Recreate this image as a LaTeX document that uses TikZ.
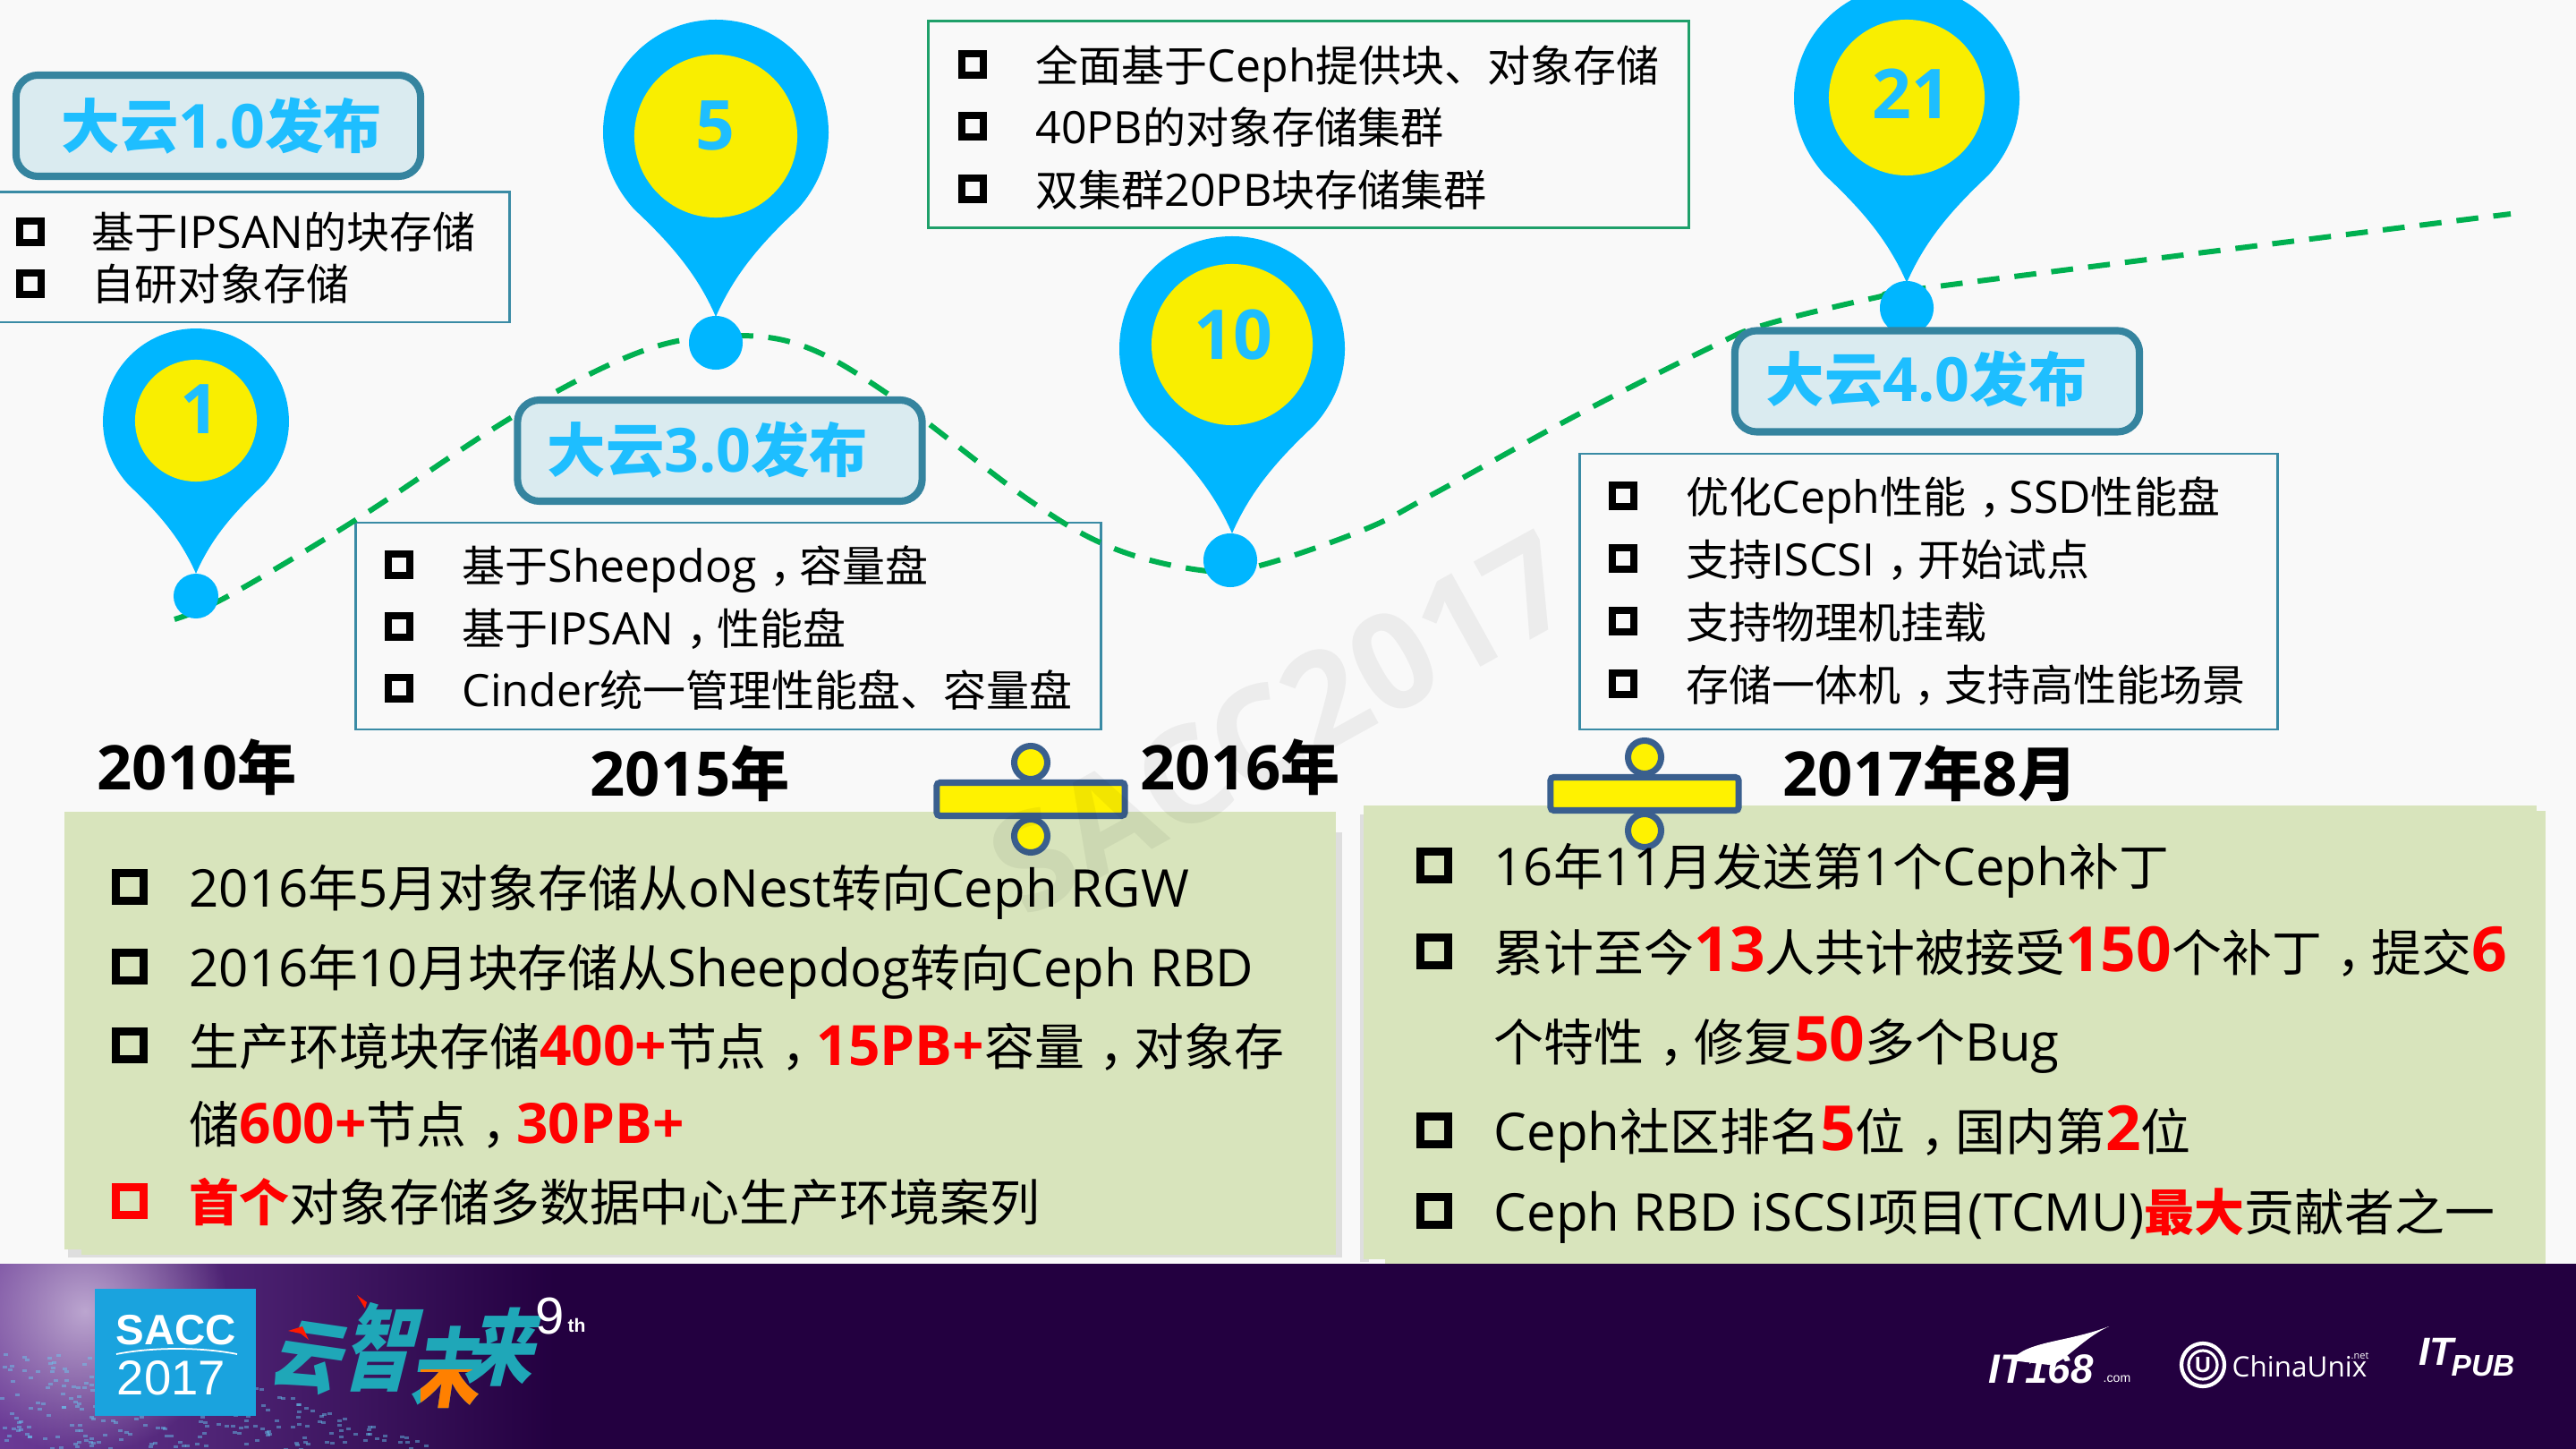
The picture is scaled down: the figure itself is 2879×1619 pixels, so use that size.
\documentclass[tikz,border=0pt]{standalone}
\usepackage{fontspec}
\setmainfont{Noto Sans CJK SC}
\newfontfamily\lat[Scale=1.04]{Open Sans}
\newfontfamily\arl{Liberation Sans}
\newcommand{\en}[1]{{\lat #1}}
\newcommand{\hot}[1]{{\color{hotred}\bfseries #1}}
\newcommand{\hota}[1]{{\color{hotred}\fontsize{17}{20}\selectfont\bfseries\lat #1}}
\newcommand{\hotb}[1]{{\color{hotred}\fontsize{19}{20}\selectfont\bfseries\lat #1}}
\newcommand{\cma}{\kern.3em，\kern-.3em}
\usetikzlibrary{fadings}
\tikzfading[name=glowout,inner color=transparent!0,outer color=transparent!100]
\definecolor{pagebg}{HTML}{F9F9F9}
\definecolor{pinblue}{HTML}{00B6FF}
\definecolor{pinface}{HTML}{F9EE00}
\definecolor{numblue}{HTML}{1EBEFF}
\definecolor{headfill}{HTML}{DAEBF0}
\definecolor{headline}{HTML}{35849F}
\definecolor{infoline}{HTML}{3A8BA5}
\definecolor{infogreen}{HTML}{1FA06A}
\definecolor{curvegreen}{HTML}{00B050}
\definecolor{panelgreen}{HTML}{D8E4BC}
\definecolor{barline}{HTML}{3A5F8E}
\definecolor{hotred}{HTML}{FF0000}
\definecolor{footdark}{HTML}{230040}
\definecolor{footlilac}{HTML}{6A3A96}
\definecolor{logoblue}{HTML}{1AA3DE}
\definecolor{brushteal}{HTML}{1FA7B8}
\tikzset{
  mappin/.pic={
    \fill[pinblue] (0,206) .. controls (-22,155) and (-55,120) .. (-91,86)
      .. controls (-113,62) and (-126,32) .. (-126,0)
      .. controls (-126,-70) and (-70,-126) .. (0,-126)
      .. controls (70,-126) and (126,-70) .. (126,0)
      .. controls (126,32) and (113,62) .. (91,86)
      .. controls (55,120) and (22,155) .. (0,206) -- cycle;
  },
  pindot/.style={circle,fill=pinblue,inner sep=0pt},
  pinyellow/.style={circle,fill=pinface,inner sep=0pt},
  pinnum/.style={anchor=base,text=numblue,font=\fontsize{21}{24}\selectfont\lat\bfseries,inner sep=0pt},
  headbox/.style={draw=headline,fill=headfill,line width=2.3pt,rounded corners=7pt,minimum width=4.52cm,minimum height=1.13cm,inner sep=0pt},
  headtext/.style={anchor=base west,text=numblue,font=\fontsize{18.6}{20}\selectfont\bfseries,inner sep=0pt},
  infobox/.style={draw=infoline,fill=pagebg,line width=.85pt},
  tick/.style={draw=black,line width=2.3pt,minimum size=.24cm,inner sep=0pt},
  bigtick/.style={draw=black,line width=2.3pt,minimum size=.31cm,inner sep=0pt},
  smalltext/.style={anchor=base west,font=\fontsize{13.66}{16}\selectfont,inner sep=0pt},
  bigtext/.style={anchor=base west,font=\fontsize{15.9}{20}\selectfont,inner sep=0pt},
  yeartext/.style={anchor=base west,font=\fontsize{18.8}{22}\selectfont\bfseries,inner sep=0pt},
  barbox/.style={draw=barline,fill=yellow,line width=2pt,rounded corners=1pt,minimum width=2.1cm,minimum height=.37cm,inner sep=0pt},
  barknob/.style={circle,draw=barline,fill=yellow,line width=2pt,minimum size=.37cm,inner sep=0pt},
  logotext/.style={text=white,inner sep=0pt,anchor=base west},
  brush/.style={text=brushteal,inner sep=0pt,font=\fontsize{22}{24}\selectfont\bfseries,transform shape},
}
\begin{document}
\begin{tikzpicture}[x=0.01cm,y=-0.01cm]
\useasboundingbox (0,0) rectangle (2879,1619);
\fill[pagebg] (0,0) rectangle (2879,1619);

% info boxes
\path[infobox] (-5,215) rectangle (569,360);
\path[infobox] (397,584) rectangle (1230,815);
\path[infobox,draw=infogreen] (1037,24) rectangle (1887,255);
\path[infobox] (1765,507) rectangle (2545,815);

% dashed curve
\draw[curvegreen,line width=1.7pt,dash pattern=on 7pt off 4.8pt,line join=round] plot[smooth,tension=.6] coordinates {(195,692) (255,666) (399,580) (574,465) (708,396) (800,376) (893,385) (995,442) (1149,558) (1243,612) (1341,637) (1404,633) (1524,592) (1600,553) (1760,465) (1912,388) (1972,363) (2094,333) (2181,318) (2806,239)};

% pins
\pic[scale=.825] at (219,471) {mappin};
\node[pindot,minimum size=.5cm] (dot1) at (219,666) {};
\node[pinyellow,minimum size=1.36cm] (face1) at (219,470) {};
\node[pinnum] (num1) at (223,485) {1};

\pic at (800,148) {mappin};
\node[pindot,minimum size=.6cm] (dot5) at (800,383) {};
\node[pinyellow,minimum size=1.82cm] (face5) at (800,152) {};
\node[pinnum] (num5) at (799,168) {5};

\pic at (1377,390) {mappin};
\node[pindot,minimum size=.6cm] (dot10) at (1375,626) {};
\node[pinyellow,minimum size=1.8cm] (face10) at (1377,385) {};
\node[pinnum] (num10) at (1378,402) {10};

\pic at (2131,110) {mappin};
\node[pindot,minimum size=.6cm] (dot21) at (2131,344) {};
\node[pinyellow,minimum size=1.74cm] (face21) at (2131,109) {};
\node[pinnum] (num21) at (2136,133) {21};

% list texts
\node[tick] (t11) at (34,259) {};
\node[tick] (t12) at (34,317) {};
\node[smalltext] (l11) at (102,278) {基于\en{IPSAN}的块存储};
\node[smalltext] (l12) at (102,336) {自研对象存储};

\node[tick] (t31) at (446,631) {};
\node[tick] (t32) at (446,700) {};
\node[tick] (t33) at (446,769) {};
\node[smalltext] (l31) at (516,651) {基于\en{Sheepdog}\cma 容量盘};
\node[smalltext] (l32) at (516,720) {基于\en{IPSAN}\cma 性能盘};
\node[smalltext] (l33) at (516,789) {\en{Cinder}统一管理性能盘、容量盘};

\node[tick] (t41) at (1087,72) {};
\node[tick] (t42) at (1087,141) {};
\node[tick] (t43) at (1087,211) {};
\node[smalltext] (l41) at (1157,92) {全面基于\en{Ceph}提供块、对象存储};
\node[smalltext] (l42) at (1157,161) {\en{40PB}的对象存储集群};
\node[smalltext] (l43) at (1157,231) {双集群\en{20PB}块存储集群};

\node[tick] (t51) at (1814,554) {};
\node[tick] (t52) at (1814,624) {};
\node[tick] (t53) at (1814,694) {};
\node[tick] (t54) at (1814,764) {};
\node[smalltext] (l51) at (1884,574) {优化\en{Ceph}性能\cma\en{SSD}性能盘};
\node[smalltext] (l52) at (1884,644) {支持\en{ISCSI}\cma 开始试点};
\node[smalltext] (l53) at (1884,714) {支持物理机挂载};
\node[smalltext] (l54) at (1884,784) {存储一体机\cma 支持高性能场景};

% release boxes
\node[headbox] (head1) at (244,140.5) {};
\node[headtext] (htext1) at (68,166) {大云\en{1.0}发布};
\node[headbox] (head3) at (804.5,503.5) {};
\node[headtext] (htext3) at (611,528) {大云\en{3.0}发布};
\node[headbox] (head4) at (2165,426) {};
\node[headtext] (htext4) at (1973,449) {大云\en{4.0}发布};

% years
\node[yeartext] (y2010) at (108,882) {\en{2010}年};
\node[yeartext] (y2015) at (659,889) {\en{2015}年};
\node[yeartext] (y2016) at (1274,882) {\en{2016}年};
\node[yeartext] (y2017) at (1992,889) {\en{2017}年\en{8}月};

% panels
\fill[black!13] (76,930) rectangle (1500,1405);
\fill[panelgreen] (72,907) rectangle (1493,1396);
\fill[panelgreen] (91,907) rectangle (1493,1402);
\fill[black!13] (1520,910) rectangle (1530,1410);
\fill[panelgreen] (1524,900) rectangle (2835,1407);
\fill[panelgreen] (1548,906) rectangle (2845,1412);

\node[barknob] (k1) at (1152,852) {};
\node[barknob] (k2) at (1152,934) {};
\node[barbox] (bar1) at (1152,893) {};
\node[barknob] (k3) at (1838,846) {};
\node[barknob] (k4) at (1838,928) {};
\node[barbox] (bar2) at (1838,887) {};

\node[bigtick] (p11) at (145,991) {};
\node[bigtick] (p12) at (145,1080) {};
\node[bigtick] (p13) at (145,1168) {};
\node[bigtick,draw=hotred] (p14) at (145,1342) {};
\node[bigtext] (m11) at (211,1013) {\en{2016}年\en{5}月对象存储从\en{oNest}转向\en{Ceph RGW}};
\node[bigtext] (m12) at (211,1102) {\en{2016}年\en{10}月块存储从\en{Sheepdog}转向\en{Ceph RBD}};
\node[bigtext] (m13) at (211,1190) {生产环境块存储\hota{400+}节点\cma\hota{15PB+}容量\cma 对象存};
\node[bigtext] (m14) at (211,1277) {储\hota{600+}节点\cma\hota{30PB+}};
\node[bigtext] (m15) at (211,1364) {\hot{首个}对象存储多数据中心生产环境案列};

\node[bigtick] (p21) at (1603,967) {};
\node[bigtick] (p22) at (1603,1063) {};
\node[bigtick] (p23) at (1603,1263) {};
\node[bigtick] (p24) at (1603,1353) {};
\node[bigtext] (m21) at (1669,989) {\en{16}年\en{11}月发送第\en{1}个\en{Ceph}补丁};
\node[bigtext] (m22) at (1669,1085) {累计至今\hotb{13}人共计被接受\hotb{150}个补丁\cma 提交\hotb{6}};
\node[bigtext] (m23) at (1669,1185) {个特性\cma 修复\hotb{50}多个\en{Bug}};
\node[bigtext] (m24) at (1669,1285) {\en{Ceph}社区排名\hotb{5}位\cma 国内第\hotb{2}位};
\node[bigtext] (m25) at (1669,1375) {\en{Ceph RBD iSCSI}项目\en{(TCMU)}\hot{最大}贡献者之一};

% footer
\fill[footdark] (0,1412) rectangle (2879,1619);
\shade[left color=footlilac,right color=footdark] (0,1412) rectangle (620,1619);
\begin{scope}
\clip (0,1412) rectangle (2879,1619);
\fill[white!55!footlilac,path fading=glowout] (95,1465) circle (160);
\pgfmathsetseed{17}
\foreach \i in {1,...,420}{
  \pgfmathsetmacro{\sx}{rnd*490}
  \pgfmathsetmacro{\sy}{1510+(\sx/490)*(\sx/490)*110+rnd*110}
  \fill[cyan!60!white,opacity=.45] (\sx,\sy) rectangle ++(5,3);
}
\end{scope}

\fill[logoblue] (106,1440) rectangle (286,1582);
\node[logotext,font=\fontsize{13.5}{16}\selectfont\arl\bfseries] (sacc) at (129,1502) {SACC};
\draw[white,line width=.5pt] (130,1513) .. controls (170,1505) and (225,1505) .. (265,1513);
\node[logotext,font=\fontsize{15.5}{18}\selectfont\arl] (sacc2017) at (130,1558) {2017};

\node[brush,xslant=.25,rotate=-8,yscale=1.1] (yun) at (348,1518) {云};
\node[brush,xslant=.25,yscale=1.35] (zhi) at (430,1505) {智};
\begin{scope}
\node[brush,xslant=.15,yscale=1.25] (wei) at (503,1528) {未};
\clip (470,1530) rectangle (535,1580);
\node[brush,xslant=.15,yscale=1.25,text=orange] at (503,1528) {未};
\end{scope}
\node[brush,xslant=.25,yscale=1.2] (lai) at (565,1505) {来};
\fill[red!80!orange] (322,1487) -- (338,1482) -- (345,1497) -- (336,1490) -- cycle;
\fill[red!80!orange] (399,1447) -- (410,1455) -- (408,1462) -- cycle;
\node[logotext,font=\fontsize{16.5}{18}\selectfont\arl] (nine) at (598,1490) {9};
\node[logotext,font=\fontsize{6}{7}\selectfont\arl\bfseries] (nineth) at (634,1488) {th};

\fill[white] (2248,1520) .. controls (2265,1498) and (2310,1500) .. (2357,1482) .. controls (2325,1497) and (2305,1525) .. (2290,1525) -- cycle;
\node[logotext,font=\fontsize{13}{14}\selectfont\arl\bfseries\itshape] (it168) at (2222,1545) {IT168};
\node[logotext,font=\fontsize{4}{5}\selectfont\arl] (itcom) at (2350,1544) {.com};

\draw[white,line width=1.2pt] (2462,1525) circle (24);
\draw[white,line width=.9pt] (2462,1525) circle (16);
\node[text=white,inner sep=0pt,font=\fontsize{7}{8}\selectfont\arl\bfseries] (unixu) at (2462,1525) {U};
\node[logotext,font=\fontsize{8.6}{10}\selectfont\lat] (unix) at (2494,1538) {ChinaUnix};
\node[logotext,font=\fontsize{3}{4}\selectfont\lat] (unixnet) at (2627,1518) {.net};

\node[logotext,font=\fontsize{12.5}{14}\selectfont\arl\bfseries\itshape] (itp) at (2703,1525) {IT};
\node[logotext,font=\fontsize{9.5}{10}\selectfont\arl\bfseries\itshape] (pub) at (2739,1537) {PUB};

% watermark
\node[rotate=29,opacity=.05,font=\fontsize{41}{45}\selectfont\lat\bfseries,inner sep=0pt] (mark) at (1432,808) {SACC2017};
\end{tikzpicture}
\end{document}
